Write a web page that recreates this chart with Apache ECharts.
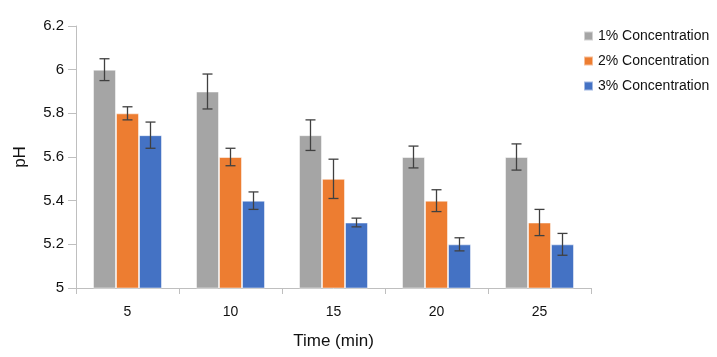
<!DOCTYPE html>
<html><head><meta charset="utf-8">
<script src="https://cdn.jsdelivr.net/npm/echarts@6/dist/echarts.min.js"></script>
<style>html,body{margin:0;padding:0;background:#fff}#c{width:717px;height:357px}</style>
</head><body><div id="c"></div>
<script>
const categories = ['5', '10', '15', '20', '25'];
const seriesNames = ['1% Concentration', '2% Concentration', '3% Concentration'];
const values1 = [6.0, 5.9, 5.7, 5.6, 5.6];
const values2 = [5.8, 5.6, 5.5, 5.4, 5.3];
const values3 = [5.7, 5.4, 5.3, 5.2, 5.2];
const errors1 = [0.05, 0.08, 0.07, 0.05, 0.06];
const errors2 = [0.03, 0.04, 0.09, 0.05, 0.06];
const errors3 = [0.06, 0.04, 0.02, 0.03, 0.05];
const yTicks = ['5', '5.2', '5.4', '5.6', '5.8', '6', '6.2'];

const colors = ['#A5A5A5', '#ED7D31', '#4472C4'];
const allValues = [values1, values2, values3];
const allErrors = [errors1, errors2, errors3];
const FONT = "'Liberation Sans', Arial, sans-serif";
const groupFrac = 0.67;

const series = [];
allValues.forEach((vals, i) => {
  series.push({
    name: seriesNames[i], type: 'bar', data: vals,
    barGap: '0%', barCategoryGap: '33%',
    itemStyle: { color: colors[i], borderColor: 'rgba(255,255,255,0.5)', borderWidth: 1 },
    emphasis: { disabled: true }
  });
});
allValues.forEach((vals, i) => {
  series.push({
    type: 'custom', z: 10, silent: true,
    data: vals.map((v, k) => [k, v - allErrors[i][k], v + allErrors[i][k]]),
    renderItem: function (params, api) {
      const idx = api.value(0);
      const lo = api.coord([idx, api.value(1)]);
      const hi = api.coord([idx, api.value(2)]);
      const bw = api.size([1, 0])[0] * groupFrac / 3;
      const x = lo[0] + (i - 1) * bw;
      const cap = 5;
      const st = { stroke: '#404040', lineWidth: 1.3 };
      return { type: 'group', children: [
        { type: 'line', shape: { x1: x, y1: lo[1], x2: x, y2: hi[1] }, style: st },
        { type: 'line', shape: { x1: x - cap, y1: lo[1], x2: x + cap, y2: lo[1] }, style: st },
        { type: 'line', shape: { x1: x - cap, y1: hi[1], x2: x + cap, y2: hi[1] }, style: st }
      ]};
    }
  });
});

const chart = echarts.init(document.getElementById('c'), null, { renderer: 'canvas' });
chart.setOption({
  animation: false,
  color: colors,
  grid: { left: 76, right: 126, top: 26, bottom: 69 },
  legend: {
    orient: 'vertical', left: 578, top: 24, itemGap: 11,
    itemWidth: 9, itemHeight: 9, icon: 'rect',
    data: seriesNames,
    textStyle: { fontFamily: FONT, fontSize: 14, color: '#111' }
  },
  xAxis: {
    type: 'category', data: categories,
    name: 'Time (min)', nameLocation: 'middle', nameGap: 45,
    nameTextStyle: { fontFamily: FONT, fontSize: 17, color: '#111' },
    axisLine: { lineStyle: { color: '#BFBFBF', width: 1 } },
    axisTick: { show: true, length: 6, lineStyle: { color: '#BFBFBF' } },
    axisLabel: { fontFamily: FONT, fontSize: 14, color: '#111', margin: 17 }
  },
  yAxis: {
    type: 'value', min: 5, max: 6.2, interval: 0.2,
    name: 'pH', nameLocation: 'middle', nameGap: 47,
    nameTextStyle: { fontFamily: FONT, fontSize: 17, color: '#111' },
    axisLine: { show: true, lineStyle: { color: '#BFBFBF', width: 1 } },
    axisTick: { show: true, length: 8, lineStyle: { color: '#BFBFBF' } },
    splitLine: { show: false },
    axisLabel: { fontFamily: FONT, fontSize: 15, color: '#111', margin: 12,
      formatter: function (v) { const k = Math.round((v - 5) / 0.2); return yTicks[k] !== undefined ? yTicks[k] : ''; } }
  },
  series: series
});
</script></body></html>
